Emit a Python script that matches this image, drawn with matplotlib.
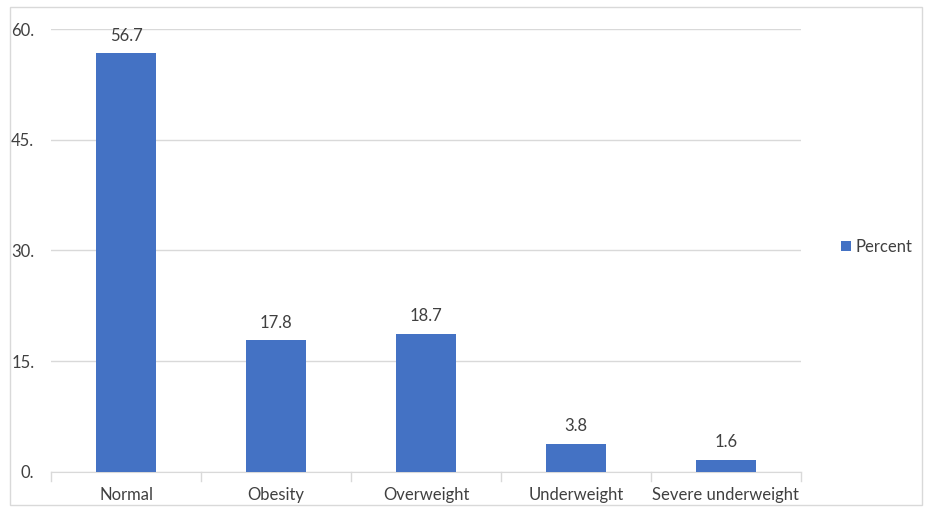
import matplotlib.pyplot as plt
from matplotlib.patches import Rectangle

categories = ["Normal", "Obesity", "Overweight", "Underweight", "Severe underweight"]
percent = [56.7, 17.8, 18.7, 3.8, 1.6]
yticks = [0, 15, 30, 45, 60]
ytick_labels = ["0.", "15.", "30.", "45.", "60."]

plt.rcParams['font.family'] = ['Lato', 'DejaVu Sans']
bar_color = "#4472C4"
text_color = "#404040"
grid_color = "#D9D9D9"

fig = plt.figure(figsize=(9.28, 5.09), dpi=100)
fig.patches.append(Rectangle((0.011, 0.008), 0.983, 0.978, transform=fig.transFigure,
                             fill=False, edgecolor="#D9D9D9", linewidth=1.0))
ax = fig.add_axes([0.055, 0.073, 0.808, 0.870])

x = range(len(categories))
bars = ax.bar(x, percent, width=0.4, color=bar_color, zorder=3, label="Percent")
for b, v in zip(bars, percent):
    ax.text(b.get_x() + b.get_width() / 2, v + 1.3, f"{v}", ha="center", va="bottom",
            fontsize=12, color=text_color)

ax.set_xlim(-0.5, len(categories) - 0.5)
ax.set_ylim(0, 60)
ax.set_yticks(yticks)
ax.set_yticklabels(ytick_labels)
ax.set_xticks(list(x))
ax.set_xticklabels(categories)
ax.tick_params(axis="y", length=0, labelsize=12, labelcolor=text_color, pad=12)
ax.tick_params(axis="x", length=0, labelsize=12, labelcolor=text_color, pad=11)
# short separators between categories below the baseline
for i in range(len(categories) + 1):
    ax.plot([i - 0.5, i - 0.5], [0, -1.3], color=grid_color, lw=1, clip_on=False, zorder=2)

ax.grid(axis="y", color=grid_color, lw=1, zorder=0)
for s in ["top", "right", "left"]:
    ax.spines[s].set_visible(False)
ax.spines["bottom"].set_color(grid_color)
ax.set_facecolor("none")

leg = fig.legend(loc="center left", bbox_to_anchor=(0.89, 0.515), frameon=False,
                 fontsize=12, handlelength=0.6, handleheight=0.6, handletextpad=0.3)
for t in leg.get_texts():
    t.set_color(text_color)

fig.savefig("out.png", dpi=100)
